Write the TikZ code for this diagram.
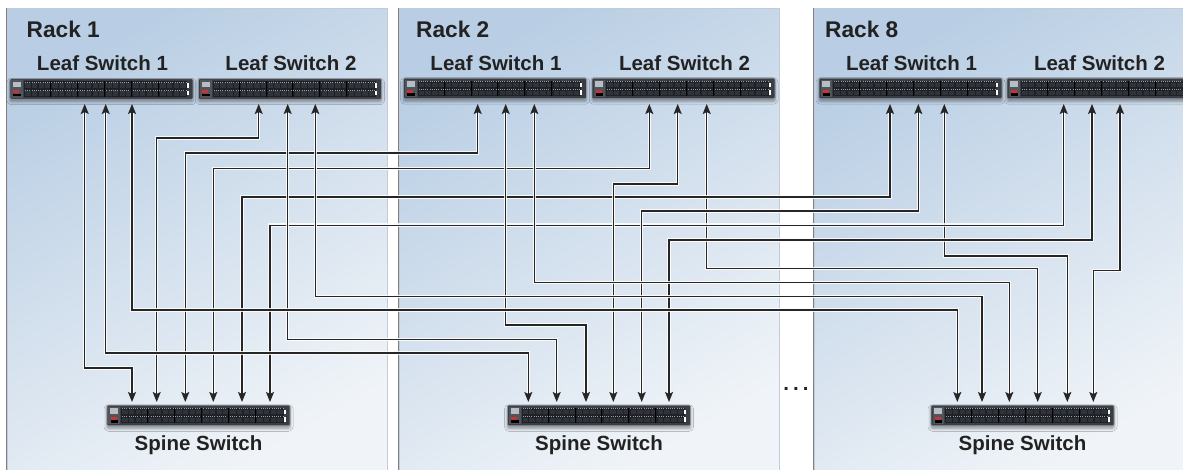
\documentclass[tikz,border=0pt]{standalone}
\usepackage{fontspec}
\setmainfont{Liberation Sans}
\usetikzlibrary{arrows.meta,shadows.blur,calc}
\definecolor{rackA}{HTML}{B9CEE4}
\definecolor{rackB}{HTML}{F0F4F8}
\definecolor{rackedge}{HTML}{C3CCD6}
\definecolor{rackleft}{HTML}{7E8184}
\definecolor{linec}{HTML}{262626}
\definecolor{txt}{HTML}{222222}
\definecolor{swbody}{HTML}{3A3E44}
\definecolor{swedge}{HTML}{8E949B}
\definecolor{swmod}{HTML}{50555C}
\definecolor{swlight}{HTML}{B8BDC3}
\definecolor{swred}{HTML}{C8323A}
\definecolor{swport}{HTML}{1E2125}
\definecolor{swcell}{HTML}{30343A}
\definecolor{swtick}{HTML}{9AA1A8}
\newcommand\linkconn[3]{\coordinate (cy) at (0,#3); \draw[link] (#1) -- (#1 |- cy) -- (#2 |- cy) -- (#2);}
\newcommand\swdetail[1]{%
  \begin{scope}[shift={(#1.north west)}]
    \fill[swmod] (1.5,1.5) rectangle (13,19);
    \fill[swlight] (3,3) rectangle (11,8.5);
    \fill[swred] (3.5,11.5) rectangle (9.5,14.5);
    \fill[black] (3.5,15) rectangle (11,17.5);
    \fill[swport] (14,2.5) rectangle (177,18);
    \foreach \rr in {0,1}{
      \draw[swtick, line width=0.5bp, dash pattern=on 1bp off 1.2bp] (15,3.2+8*\rr) -- (176,3.2+8*\rr);
      \foreach \ii in {0,...,23}{\fill[swcell] (15.2+6.75*\ii,4.6+8*\rr) rectangle ++(5.4,4.2);}
    }
    \foreach \gg in {1,...,5}{\draw[black, line width=1bp] (14+26.8*\gg,2.5) -- ++(0,15.5);}
    \fill[white] (176.6,4.5) rectangle (178.6,9);
    \fill[white] (176.6,12) rectangle (178.6,16.5);
  \end{scope}}
\begin{document}
\begin{tikzpicture}[x=1bp,y=-1bp,
  rackpanel/.style={rectangle, anchor=north west, inner sep=0pt, minimum height=470bp,
     top color=rackA, bottom color=rackB, shading angle=30, draw=rackedge, line width=0.8bp},
  racktitle/.style={anchor=base west, inner sep=0pt, text=txt, font=\fontsize{22.7bp}{27bp}\selectfont\bfseries},
  lbl/.style={anchor=base, inner sep=0pt, text=txt, font=\fontsize{20.5bp}{24bp}\selectfont\bfseries},
  swpic/.style={rectangle, rounded corners=1.2bp, minimum width=183bp, minimum height=20.5bp, inner sep=0pt,
     outer sep=0pt, fill=swbody, draw=swedge, line width=0.7bp,
     blur shadow={shadow xshift=0bp, shadow yshift=-2.5bp, shadow blur radius=3bp, shadow opacity=40}},
  link/.style={draw=linec, line width=1.25bp, <->, >={Stealth[length=10bp,width=8bp,inset=2bp]},
     preaction={draw=white, draw opacity=.85, line width=3.4bp, arrows=-, shorten <=9bp, shorten >=9bp}}
  ]
\useasboundingbox (0,0) rectangle (1183,470);
\fill[white] (0,0) rectangle (1183,470);

% racks
\node[rackpanel, minimum width=380.5bp] (rack1) at (6.5,8.5) {};
\node[rackpanel, minimum width=380bp] (rack2) at (398.5,8.5) {};
\node[rackpanel, minimum width=380bp] (rack8) at (813.5,8.5) {};
\draw[rackleft, line width=1bp] (rack1.north west) -- (rack1.south west);
\draw[rackleft, line width=1bp] (rack2.north west) -- (rack2.south west);
\draw[rackleft, line width=1bp] (rack8.north west) -- (rack8.south west);
\node[racktitle] (t1) at (26.5,37.3) {Rack 1};
\node[racktitle] (t2) at (416,37.3) {Rack 2};
\node[racktitle] (t8) at (825,37.3) {Rack 8};

% leaf switches
\node[swpic] (r1l1) at (101.5,89) {};
\node[swpic] (r1l2) at (290,89) {};
\node[swpic] (r2l1) at (495,88.5) {};
\node[swpic] (r2l2) at (683.5,88.5) {};
\node[swpic] (r8l1) at (910.5,88.5) {};
\node[swpic] (r8l2) at (1098.5,88.5) {};
% spine switches
\node[swpic] (r1s) at (198.5,415.5) {};
\node[swpic] (r2s) at (599,415.5) {};
\node[swpic] (r8s) at (1022.5,415.5) {};
\foreach \n in {r1l1,r1l2,r2l1,r2l2,r8l1,r8l2,r1s,r2s,r8s}{\swdetail{\n}}

% labels
\foreach \n/\t in {r1l1/Leaf Switch 1, r1l2/Leaf Switch 2, r2l1/Leaf Switch 1, r2l2/Leaf Switch 2, r8l1/Leaf Switch 1, r8l2/Leaf Switch 2}{
  \node[lbl] (\n t) at ([xshift=1bp,yshift=7.8bp]\n.north) {\t};
}
\foreach \n in {r1s,r2s,r8s}{
  \node[lbl] (\n t) at ([yshift=-24.7bp]\n.south) {Spine Switch};
}
\node[lbl] (dots) at (796,390.7) {.\hspace{4bp}.\hspace{4bp}.};

% ports (arrow tips)
\foreach \n/\a/\b/\c in {r1l1/84.7/105.7/132, r1l2/258.7/287.7/315.3, r2l1/477.7/505.7/534.3,
                        r2l2/649.3/677.7/706.7, r8l1/890/918.3/944.3, r8l2/1063.7/1092/1120}{
  \coordinate (\n a) at (\a,104);
  \coordinate (\n b) at (\b,104);
  \coordinate (\n c) at (\c,104);
}
\foreach \n/\p/\q/\r/\s/\u/\v in {r1s/132/156.7/185.3/213.3/242/270, r2s/528.3/556.7/586/613.3/641.7/669,
                        r8s/957.3/982/1009.3/1037.7/1067.3/1093.3}{
  \coordinate (\n 1) at (\p,402);
  \coordinate (\n 2) at (\q,402);
  \coordinate (\n 3) at (\r,402);
  \coordinate (\n 4) at (\s,402);
  \coordinate (\n 5) at (\u,402);
  \coordinate (\n 6) at (\v,402);
}

% connectors (drawing order sets which line passes over)
\linkconn{r1l2a}{r1s2}{138}      % D
\linkconn{r2l2c}{r8s4}{268.3}    % P
\linkconn{r8l1c}{r8s5}{256}      % Q
\linkconn{r2l1a}{r1s3}{153}      % G
\linkconn{r2l2a}{r1s4}{168.3}    % H
\linkconn{r8l1a}{r1s5}{197}      % I
\linkconn{r8l2a}{r1s6}{225.2}    % J
\linkconn{r8l2b}{r2s6}{240}      % N
\linkconn{r8l1b}{r2s5}{211}      % M
\linkconn{r2l2b}{r2s4}{184}      % K
\linkconn{r2l1b}{r2s3}{325}      % L
\linkconn{r2l1c}{r8s3}{282.7}    % O
\linkconn{r1l2b}{r2s2}{339.5}    % E
\linkconn{r1l2c}{r8s2}{296.5}    % F
\linkconn{r1l1c}{r8s1}{310}      % C
\linkconn{r1l1b}{r2s1}{353}      % B
\linkconn{r1l1a}{r1s1}{368}      % A
\linkconn{r8l2c}{r8s6}{270.7}    % R
\end{tikzpicture}
\end{document}
